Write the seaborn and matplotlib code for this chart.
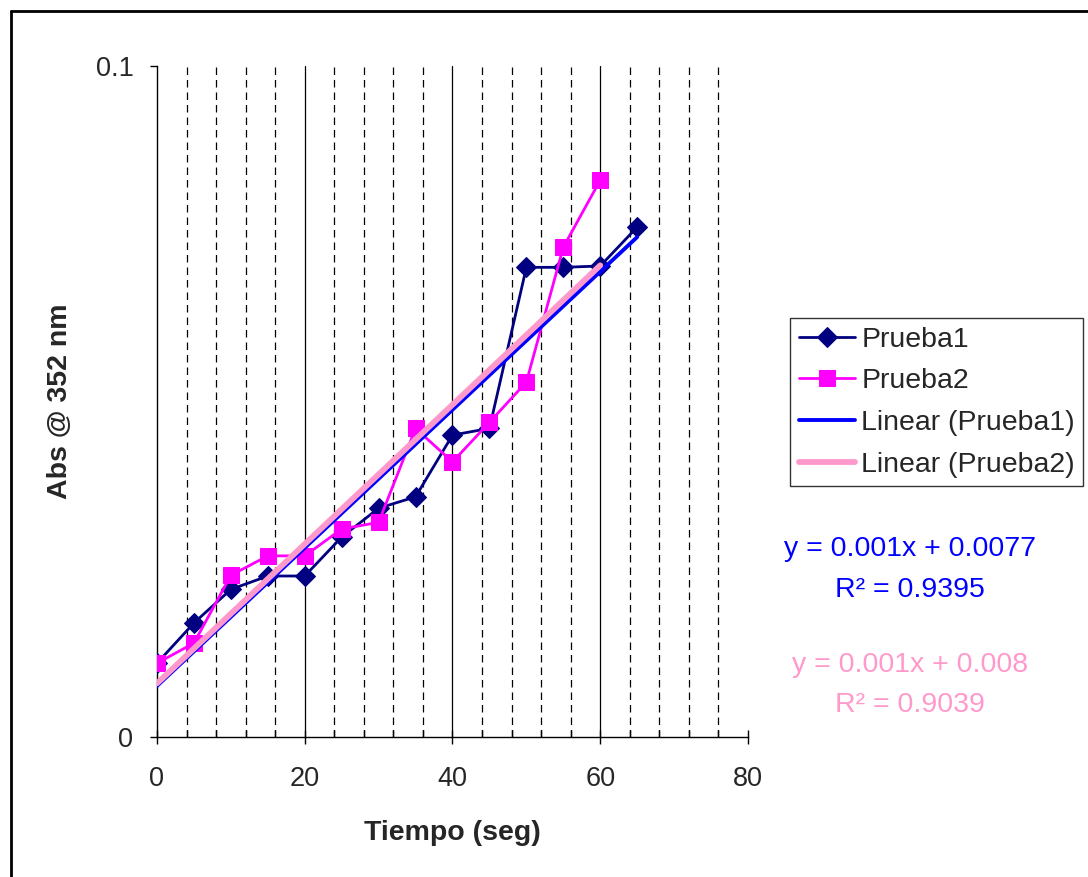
import numpy as np
import pandas as pd
import seaborn as sns
import matplotlib.pyplot as plt
from matplotlib.lines import Line2D

# data
tiempo1 = [0, 5, 10, 15, 20, 25, 30, 35, 40, 45, 50, 55, 60, 65]
prueba1 = [0.0110, 0.0170, 0.0220, 0.0240, 0.0240, 0.0298, 0.0341, 0.0358,
           0.0450, 0.0460, 0.0700, 0.0700, 0.0702, 0.0760]
tiempo2 = [0, 5, 10, 15, 20, 25, 30, 35, 40, 45, 50, 55, 60]
prueba2 = [0.0110, 0.0140, 0.0241, 0.0270, 0.0270, 0.0310, 0.0320, 0.0460,
           0.0410, 0.0469, 0.0529, 0.0730, 0.0830]
eq1 = ["y = 0.001x + 0.0077", "R² = 0.9395"]
eq2 = ["y = 0.001x + 0.008", "R² = 0.9039"]

sns.set_style("white")
plt.rcParams['font.family'] = ['Liberation Sans', 'DejaVu Sans']

df1 = pd.DataFrame({"t": tiempo1, "abs": prueba1})
df2 = pd.DataFrame({"t": tiempo2, "abs": prueba2})

# linear trend lines (least squares) over the data range
c1 = np.polyfit(df1.t, df1["abs"], 1)
c2 = np.polyfit(df2.t, df2["abs"], 1)
fit1 = pd.DataFrame({"t": [df1.t.min(), df1.t.max()]})
fit1["abs"] = np.polyval(c1, fit1.t)
fit2 = pd.DataFrame({"t": [df2.t.min(), df2.t.max()]})
fit2["abs"] = np.polyval(c2, fit2.t)

fig = plt.figure(figsize=(10.88, 8.77), dpi=100)
ax = fig.add_axes([0.1443, 0.1596, 0.5432, 0.7651])

# grid: solid every 20, dashed every 4
for x in np.arange(4, 80, 4):
    if x % 20 == 0:
        ax.axvline(x, color='black', lw=0.9, zorder=0)
    else:
        ax.axvline(x, color='black', lw=0.9, ls=(0, (6, 4)), zorder=0)

sns.lineplot(data=df1, x="t", y="abs", ax=ax, color='#000080', lw=2,
             marker='D', markersize=10, markeredgecolor='#000080', label='Prueba1', zorder=3)
sns.lineplot(data=df2, x="t", y="abs", ax=ax, color='#FF00FF', lw=2,
             marker='s', markersize=11.5, markeredgecolor='#FF00FF', label='Prueba2', zorder=3)
sns.lineplot(data=fit1, x="t", y="abs", ax=ax, color='#0000FF', lw=2.8,
             label='Linear (Prueba1)', zorder=4)
sns.lineplot(data=fit2, x="t", y="abs", ax=ax, color='#FF99CC', lw=4.2,
             label='Linear (Prueba2)', zorder=4)

ax.set_xlim(0, 80)
ax.set_ylim(0, 0.1)
ax.set_xticks([0, 20, 40, 60, 80])
ax.set_xticks(np.arange(0, 81, 4), minor=True)
ax.set_yticks([0, 0.1])
ax.set_yticklabels(['0', '0.1'])
ax.tick_params(axis='x', which='major', direction='inout', length=10, width=1,
               labelsize=19.5, pad=16, color='black', bottom=True)
ax.tick_params(axis='x', which='minor', direction='in', length=5, width=1,
               color='black', bottom=True)
ax.tick_params(axis='y', which='major', direction='out', length=5, width=1,
               labelsize=19.5, pad=12, color='black', left=True)
sns.despine(ax=ax)
for s in ['left', 'bottom']:
    ax.spines[s].set_color('black')
    ax.spines[s].set_linewidth(1)

ax.set_xlabel("Tiempo (seg)", fontsize=20.5, fontweight='bold', labelpad=20)
ax.set_ylabel("Abs @ 352 nm", fontsize=20.5, fontweight='bold', labelpad=16)

leg = ax.legend(loc='upper left', bbox_to_anchor=(790 / 1088, 1 - 318 / 877),
                bbox_transform=fig.transFigure, fontsize=20.5, frameon=True,
                fancybox=False, edgecolor='black', borderpad=0.3,
                handlelength=2.0, handletextpad=0.2, labelspacing=0.55,
                borderaxespad=0)
leg.get_frame().set_linewidth(1)

fig.text(910 / 1088, 1 - 549 / 877, eq1[0], color='#0000FF', fontsize=20.5,
         ha='center', va='center')
fig.text(910 / 1088, 1 - 590 / 877, eq1[1], color='#0000FF', fontsize=20.5,
         ha='center', va='center')
fig.text(910 / 1088, 1 - 665 / 877, eq2[0], color='#FF99CC', fontsize=20.5,
         ha='center', va='center')
fig.text(910 / 1088, 1 - 705 / 877, eq2[1], color='#FF99CC', fontsize=20.5,
         ha='center', va='center')

# outer chart border (top and left visible)
fig.add_artist(Line2D([11 / 1088, 11 / 1088], [0, 1 - 11 / 877],
                      transform=fig.transFigure, color='black', lw=2))
fig.add_artist(Line2D([11 / 1088, 1], [1 - 11 / 877, 1 - 11 / 877],
                      transform=fig.transFigure, color='black', lw=2))

fig.savefig("out.png", dpi=100)
